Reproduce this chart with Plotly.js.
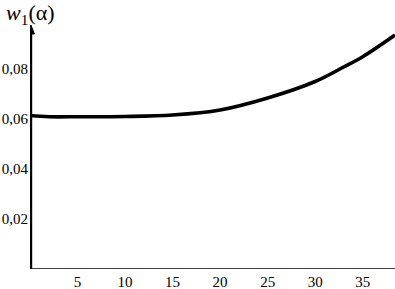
<!DOCTYPE html>
<html><head><meta charset="utf-8">
<script src="https://cdn.plot.ly/plotly-3.0.1.min.js"></script>
<style>html,body{margin:0;padding:0;background:#fff;}#c{width:395px;height:289px;}</style>
</head><body><div id="c"></div>
<script>
const alpha = [0, 2, 5, 10, 15, 20, 25, 30, 33, 35, 38.4];
const w1 = [0.0614, 0.0609, 0.0609, 0.0610, 0.0616, 0.0636, 0.0684, 0.0750, 0.0808, 0.0849, 0.0936];
const xTicks = [5, 10, 15, 20, 25, 30, 35];
const yTicks = [0.02, 0.04, 0.06, 0.08];
const yTickText = ["0,02", "0,04", "0,06", "0,08"];

const fam = "Liberation Serif";
const font = {family: fam, size: 15, color: "#000"};
Plotly.newPlot("c", [{
  x: alpha, y: w1, type: "scatter", mode: "lines",
  line: {color: "#000", width: 3.6, shape: "spline"}, hoverinfo: "skip"
}], {
  width: 395, height: 289,
  margin: {l: 30, r: 0, t: 25, b: 20},
  paper_bgcolor: "#fff", plot_bgcolor: "#fff",
  showlegend: false, font: font,
  xaxis: {range: [0, 38.4], showgrid: false, zeroline: false, showline: false,
    tickvals: xTicks, ticktext: xTicks.map(String), ticks: "", ticklabelstandoff: 2,
    tickfont: font},
  yaxis: {range: [0, 0.0976], showgrid: false, zeroline: false, showline: false,
    tickvals: yTicks, ticktext: yTickText, ticks: "", ticklabelstandoff: 1,
    tickfont: font},
  shapes: [
    {type: "line", xref: "x", yref: "y", x0: -1.05, x1: 38.4, y0: -0.0004, y1: -0.0004,
     line: {color: "#000", width: 3.5}},
    {type: "line", xref: "x", yref: "y", x0: 0.1, x1: 0.1, y0: -0.0036, y1: 0.095,
     line: {color: "#000", width: 2.5}},
    {type: "path", xref: "x", yref: "y", xsizemode: "pixel", ysizemode: "pixel",
     xanchor: 0.1, yanchor: 0.0976, path: "M -3.5,-9 L 0,0 L 3.5,-9 Z",
     fillcolor: "#000", line: {color: "#000", width: 1}}
  ],
  annotations: [
    {xref: "paper", yref: "paper", x: 0, y: 1, xshift: -26, yshift: 11, xanchor: "left", yanchor: "middle",
     text: "<i>w</i><sub>1</sub>(α)", showarrow: false,
     font: {family: fam, size: 22, color: "#000"}}
  ]
}, {staticPlot: true});
</script></body></html>
